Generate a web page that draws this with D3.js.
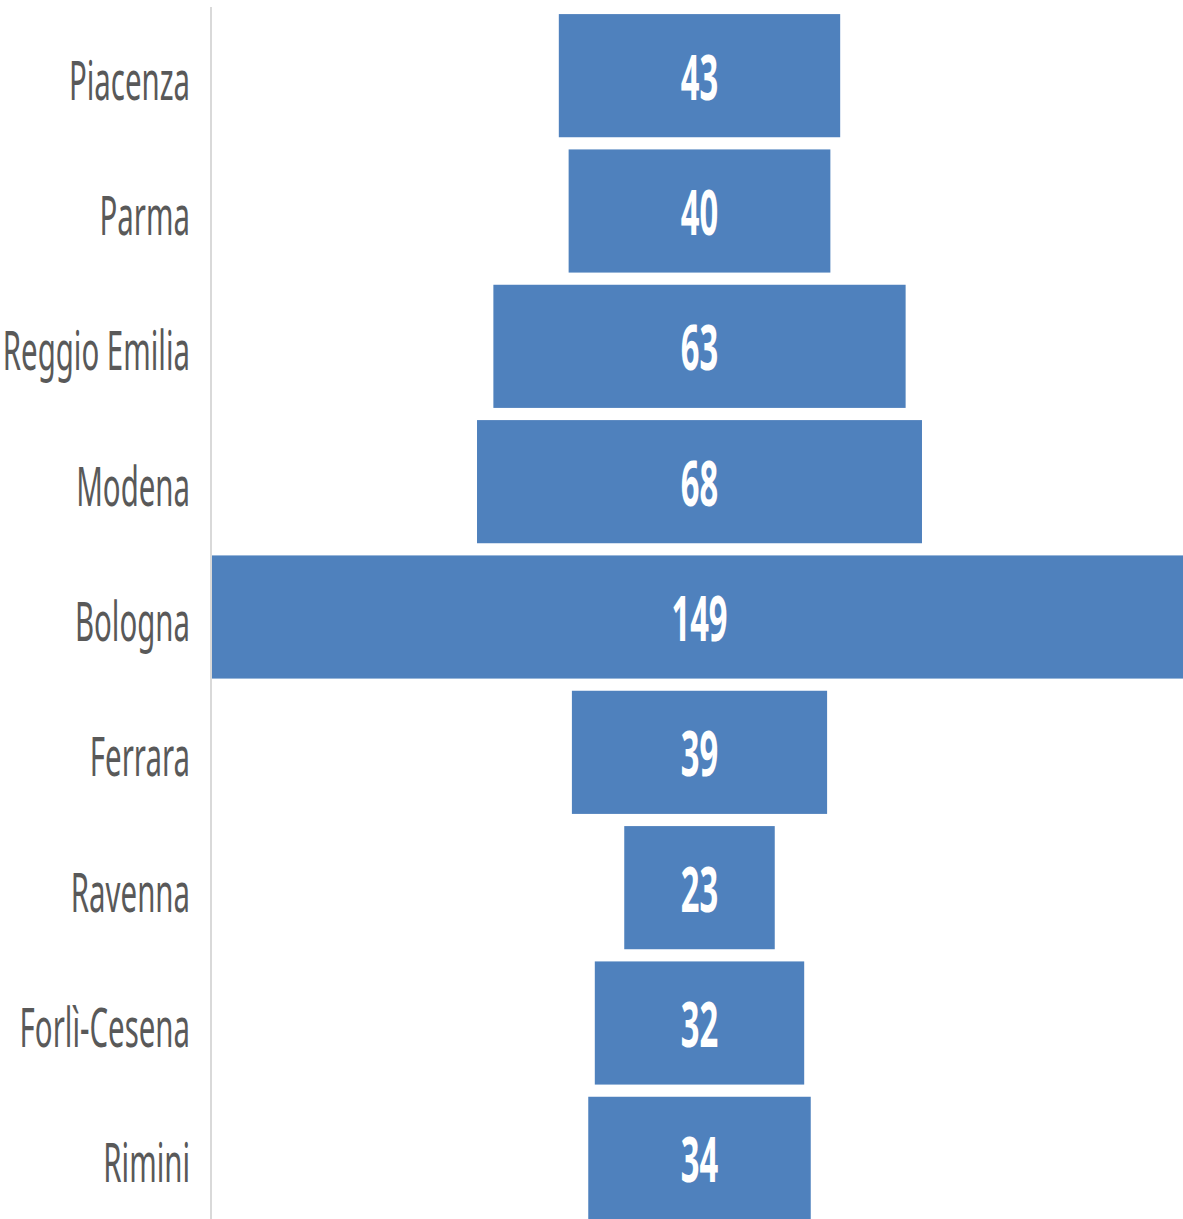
<!DOCTYPE html>
<html>
<head>
<meta charset="utf-8">
<script src="https://cdn.jsdelivr.net/npm/d3@7"></script>
<style>
  html, body { margin: 0; padding: 0; background: #fff; overflow: hidden; }
</style>
</head>
<body>
<div id="chart"></div>
<script>
var provinces = ['Piacenza', 'Parma', 'Reggio Emilia', 'Modena', 'Bologna', 'Ferrara', 'Ravenna', 'Forlì-Cesena', 'Rimini']
var counts = [43, 40, 63, 68, 149, 39, 23, 32, 34]

var width = 1183
var height = 1219
var axisX = 211
var labelSqueeze = 0.535   // text in the picture is horizontally condensed
var valueSqueeze = 0.52

var svg = d3.select('#chart')
    .append('svg')
    .attr('width', width)
    .attr('height', height)

var maxVal = d3.max(counts)

var x = d3.scaleLinear()
    .domain([-maxVal / 2, maxVal / 2])
    .range([212, 1187])

var y = d3.scaleBand()
    .domain(provinces)
    .range([8, 1226])
    .paddingInner(0.09)
    .paddingOuter(0.045)

var rows = provinces.map((p, i) => ({name: p, value: counts[i]}))

// bars, centred like a funnel
svg.append('g')
  .selectAll('rect')
  .data(rows)
  .enter()
  .append('rect')
    .attr('x', d => x(-d.value / 2))
    .attr('y', d => y(d.name))
    .attr('width', d => x(d.value / 2) - x(-d.value / 2))
    .attr('height', y.bandwidth())
    .attr('fill', '#4f81bd')

// vertical axis line
svg.append('line')
  .attr('x1', axisX).attr('x2', axisX)
  .attr('y1', 7).attr('y2', height)
  .attr('stroke', '#d9d9d9')
  .attr('stroke-width', 2)

// category labels
svg.append('g')
  .selectAll('text')
  .data(rows)
  .enter()
  .append('text')
    .attr('transform', d => `translate(190,${y(d.name) + y.bandwidth() / 2 + 24}) scale(${labelSqueeze},1)`)
    .attr('text-anchor', 'end')
    .attr('font-family', 'Noto Sans, sans-serif')
    .attr('font-size', 55)
    .attr('fill', '#595959')
    .text(d => d.name)

// value labels
svg.append('g')
  .selectAll('text')
  .data(rows)
  .enter()
  .append('text')
    .attr('transform', d => `translate(${x(0)},${y(d.name) + y.bandwidth() / 2 + 24}) scale(${valueSqueeze},1)`)
    .attr('text-anchor', 'middle')
    .attr('font-family', 'Noto Sans, sans-serif')
    .attr('font-weight', 'bold')
    .attr('font-size', 63)
    .attr('fill', '#ffffff')
    .text(d => d.value)
</script>
</body>
</html>
